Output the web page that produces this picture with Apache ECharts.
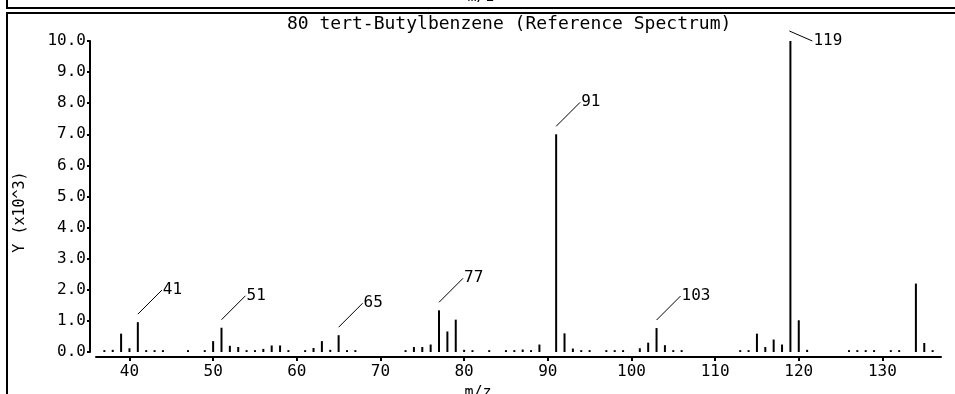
<!DOCTYPE html>
<html><head><meta charset="utf-8">
<script src="https://cdn.jsdelivr.net/npm/echarts@6/dist/echarts.min.js"></script>
<style>html,body{margin:0;padding:0;background:#fff}#c{width:955px;height:394px}</style>
</head><body><div id="c"></div>
<script>
const titleText = '80 tert-Butylbenzene (Reference Spectrum)';
const xName = 'm/z';
const yName = 'Y (x10^3)';
const mz = [37,38,39,40,41,42,43,44,47,49,50,51,52,53,54,55,56,57,58,59,61,62,63,64,65,66,67,
  73,74,75,76,77,78,79,80,81,83,85,86,87,88,89,91,92,93,94,95,97,98,99,101,102,103,104,105,106,
  113,114,115,116,117,118,119,120,121,126,127,128,129,131,132,134,135,136];
const intensity = [0.06,0.07,0.59,0.12,0.96,0.06,0.06,0.06,0.06,0.06,0.35,0.78,0.2,0.16,0.06,0.06,0.1,0.21,0.21,0.06,0.06,0.13,0.35,0.07,0.54,0.06,0.06,
  0.06,0.16,0.16,0.24,1.34,0.66,1.04,0.07,0.06,0.06,0.06,0.06,0.08,0.06,0.24,7.0,0.6,0.11,0.06,0.06,0.06,0.06,0.06,0.12,0.3,0.77,0.22,0.06,0.06,
  0.06,0.06,0.59,0.16,0.4,0.24,10.0,1.02,0.07,0.06,0.06,0.06,0.06,0.06,0.06,2.2,0.29,0.06];
const labelledMz = [41,51,65,77,91,103,119];

const FONT = '"DejaVu Sans Mono", monospace';
const chart = echarts.init(document.getElementById('c'), null, {renderer:'canvas'});

const gL = 96, gW = 845, xMin = 36, xMax = 137;
const px = v => gL + (v - xMin) * gW / (xMax - xMin);

const barData = mz.map((m, i) => [m, intensity[i]]);
const labelData = labelledMz.map(m => [m, intensity[mz.indexOf(m)]]);

chart.setOption({
  animation: false,
  backgroundColor: '#fff',
  title: {
    text: titleText, left: 282, top: 10,
    textStyle: {fontFamily: FONT, fontSize: 18, fontWeight: 'normal', color: '#000'}
  },
  grid: [
    {left: gL, width: gW, top: 41, bottom: 42},
    {left: px(40), width: px(130) - px(40), top: 41, bottom: 42}
  ],
  xAxis: [
    {gridIndex: 0, type: 'value', min: xMin, max: xMax, offset: 5,
     axisLine: {onZero: false, lineStyle: {color: '#000', width: 2}},
     axisTick: {show: false}, axisLabel: {show: false}, splitLine: {show: false}},
    {gridIndex: 1, type: 'value', min: 40, max: 130, interval: 10, offset: 5,
     axisLine: {show: false, onZero: false},
     axisTick: {show: true, length: 4, lineStyle: {color: '#000', width: 2}},
     axisLabel: {margin: 7, color: '#000', fontFamily: FONT, fontSize: 16},
     splitLine: {show: false}}
  ],
  yAxis: [
    {gridIndex: 0, type: 'value', min: 0, max: 10, interval: 1, offset: 6,
     axisLine: {show: true, onZero: false, lineStyle: {color: '#000', width: 2}},
     axisTick: {show: true, length: 3, lineStyle: {color: '#000', width: 2}},
     axisLabel: {margin: 4, color: '#000', fontFamily: FONT, fontSize: 16, formatter: v => v.toFixed(1)},
     splitLine: {show: false}},
    {gridIndex: 1, type: 'value', min: 0, max: 10, show: false}
  ],
  graphic: [
    {type: 'line', shape: {x1: 7, y1: 0, x2: 7, y2: 8}, style: {stroke: '#000', lineWidth: 2}},
    {type: 'line', shape: {x1: 6, y1: 8, x2: 955, y2: 8}, style: {stroke: '#000', lineWidth: 2}},
    {type: 'line', shape: {x1: 6, y1: 13, x2: 955, y2: 13}, style: {stroke: '#000', lineWidth: 2}},
    {type: 'line', shape: {x1: 7, y1: 13, x2: 7, y2: 394}, style: {stroke: '#000', lineWidth: 2}},
    {type: 'text', x: 481, y: -10, style: {text: xName, fill: '#000', font: '15px ' + FONT, align: 'center', verticalAlign: 'top'}},
    {type: 'text', x: 478, y: 386, style: {text: xName, fill: '#000', font: '15px ' + FONT, align: 'center', verticalAlign: 'top'}},
    {type: 'text', x: 20, y: 212, rotation: Math.PI / 2,
     style: {text: yName, fill: '#000', font: '15px ' + FONT, align: 'center', verticalAlign: 'middle'}}
  ],
  series: [
    {type: 'bar', xAxisIndex: 0, yAxisIndex: 0, data: barData, barWidth: 2,
     itemStyle: {color: '#000'}, silent: true},
    {type: 'custom', xAxisIndex: 0, yAxisIndex: 0, data: labelData, clip: false, z: 5,
     encode: {x: 0, y: 1},
     renderItem: (params, api) => {
       const m = api.value(0), v = api.value(1);
       const p = api.coord([m, v]);
       let x0, y0, x1, y1;
       if (v >= 9.5) { x0 = p[0] - 1; y0 = p[1] - 10; x1 = p[0] + 22; y1 = p[1]; }
       else { x0 = p[0]; y0 = p[1] - 8; x1 = p[0] + 24; y1 = p[1] - 32; }
       return {type: 'group', children: [
         {type: 'line', shape: {x1: x0, y1: y0, x2: x1, y2: y1}, style: {stroke: '#000', lineWidth: 1}},
         {type: 'text', style: {x: x1 + 1, y: y1, text: String(m), fill: '#000',
           font: '16px ' + FONT, align: 'left', verticalAlign: 'middle'}}
       ]};
     }}
  ]
});
</script></body></html>
